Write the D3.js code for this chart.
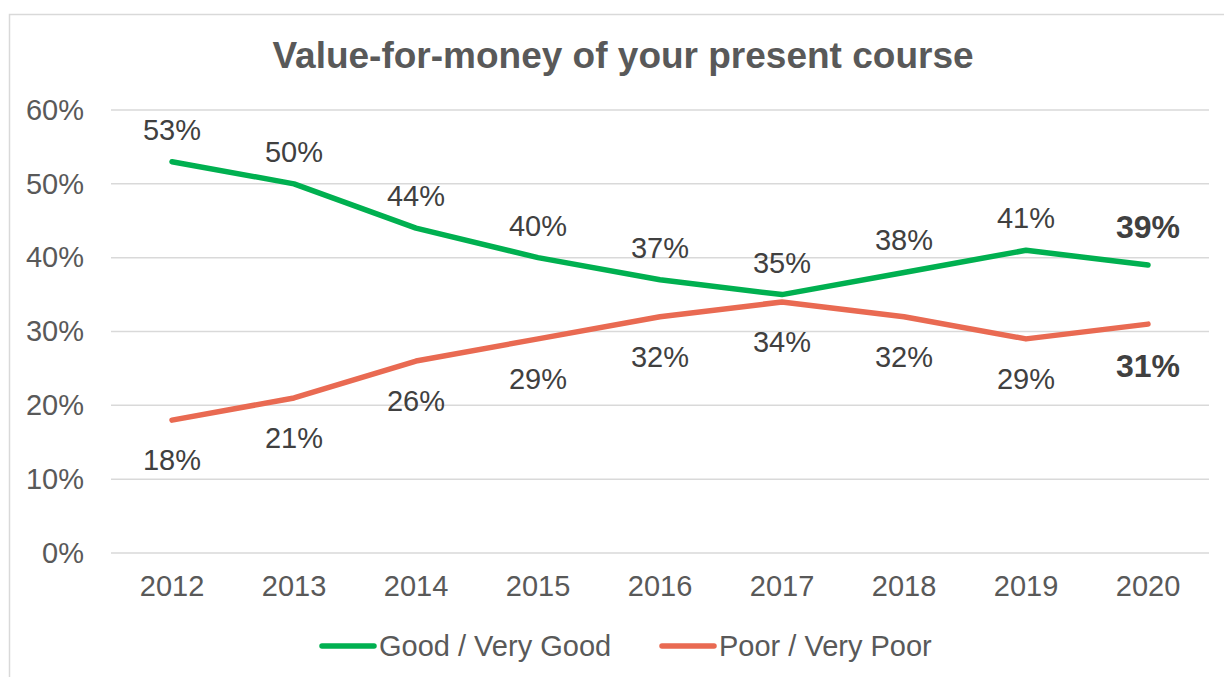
<!DOCTYPE html>
<html>
<head>
<meta charset="utf-8">
<script src="https://cdn.jsdelivr.net/npm/d3@7"></script>
<style>
  html, body { margin: 0; padding: 0; background: #fff; }
  svg text { font-family: "Liberation Sans", Arial, sans-serif; }
</style>
</head>
<body>
<svg id="chart" width="1224" height="677"></svg>
<script>
// data
var years = ['2012', '2013', '2014', '2015', '2016', '2017', '2018', '2019', '2020'];
var goodValues = [53, 50, 44, 40, 37, 35, 38, 41, 39];
var poorValues = [18, 21, 26, 29, 32, 34, 32, 29, 31];
var yTicks = [0, 10, 20, 30, 40, 50, 60];
var seriesNames = ['Good / Very Good', 'Poor / Very Poor'];

var green = '#00b050';
var red = '#e96a52';
var textGrey = '#595959';
var labelGrey = '#404040';
var fontSize = 29;

var svg = d3.select('#chart');

// chart frame
svg.append('rect').attr('x', 9.5).attr('y', 14.5).attr('width', 1230).attr('height', 700)
  .attr('fill', 'none').attr('stroke', '#d9d9d9').attr('stroke-width', 1.5);

var plotLeft = 111, plotRight = 1209, plotTop = 110, plotBottom = 553;

var x = d3.scaleBand().domain(years).range([plotLeft, plotRight]);
var y = d3.scaleLinear().domain([0, 60]).range([plotBottom, plotTop]);

// title
svg.append('text').attr('x', 623).attr('y', 68).attr('text-anchor', 'middle')
  .attr('font-size', 37).attr('font-weight', 'bold').attr('fill', textGrey)
  .text('Value-for-money of your present course');

// gridlines
svg.append('g').selectAll('line').data(yTicks).enter().append('line')
  .attr('x1', plotLeft).attr('x2', plotRight)
  .attr('y1', function(d){ return y(d); }).attr('y2', function(d){ return y(d); })
  .attr('stroke', '#d9d9d9').attr('stroke-width', 1.5);

// y axis
var yAxis = svg.append('g').attr('transform', 'translate(' + (plotLeft - 27) + ',0)')
  .call(d3.axisLeft(y).tickValues(yTicks).tickSize(0).tickPadding(0)
    .tickFormat(function(d){ return d + '%'; }));
yAxis.select('.domain').remove();
yAxis.selectAll('text').attr('font-size', fontSize).attr('fill', textGrey)
  .attr('font-family', '"Liberation Sans", Arial, sans-serif');

// x axis
var xAxis = svg.append('g').attr('transform', 'translate(0,' + plotBottom + ')')
  .call(d3.axisBottom(x).tickSize(0).tickPadding(22));
xAxis.select('.domain').remove();
xAxis.selectAll('text').attr('font-size', fontSize).attr('fill', textGrey)
  .attr('font-family', '"Liberation Sans", Arial, sans-serif');

var cx = function(d, i){ return x(years[i]) + x.bandwidth() / 2; };

var line = d3.line()
  .x(function(d, i){ return cx(d, i); })
  .y(function(d){ return y(d); });

var series = [
  { name: seriesNames[0], values: goodValues, color: green, dy: -22, dyLast: -27 },
  { name: seriesNames[1], values: poorValues, color: red, dy: 50, dyLast: 53 }
];

series.forEach(function(s){
  var last = s.values.length - 1;
  svg.append('path').datum(s.values).attr('d', line)
    .attr('fill', 'none').attr('stroke', s.color).attr('stroke-width', 5.5)
    .attr('stroke-linecap', 'round').attr('stroke-linejoin', 'round');

  // last year's label is bold and a bit bigger
  svg.append('g').selectAll('text').data(s.values).enter().append('text')
    .attr('x', function(d, i){ return cx(d, i); })
    .attr('y', function(d, i){ return y(d) + (i === last ? s.dyLast : s.dy); })
    .attr('text-anchor', 'middle')
    .attr('font-size', function(d, i){ return i === last ? 32 : fontSize; })
    .attr('font-weight', function(d, i){ return i === last ? 'bold' : 'normal'; })
    .attr('fill', labelGrey)
    .text(function(d){ return d + '%'; });
});

// legend
var legendItems = [
  { name: seriesNames[0], color: green, x: 322 },
  { name: seriesNames[1], color: red, x: 662 }
];
var legend = svg.append('g').attr('transform', 'translate(0,646)');
legendItems.forEach(function(it){
  legend.append('line').attr('x1', it.x).attr('x2', it.x + 52)
    .attr('stroke', it.color).attr('stroke-width', 5.5).attr('stroke-linecap', 'round');
  legend.append('text').attr('x', it.x + 57).attr('y', 10)
    .attr('font-size', fontSize).attr('fill', textGrey).text(it.name);
});
</script>
</body>
</html>
